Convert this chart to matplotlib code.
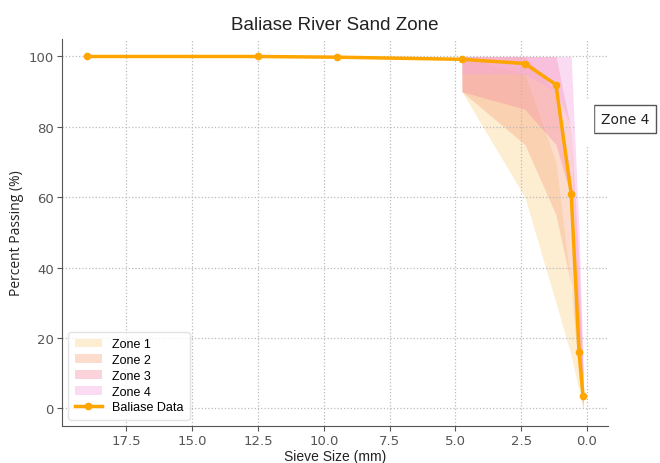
import matplotlib.pyplot as plt
from matplotlib.patches import Rectangle

plt.rcParams['font.family'] = ['Liberation Sans', 'DejaVu Sans']

# sample gradation
sieve = [19, 12.5, 9.5, 4.75, 2.36, 1.18, 0.6, 0.3, 0.15]
passing = [100, 100, 99.8, 99.2, 98.0, 92.0, 61.0, 16.0, 3.5]

# IS 383 grading zone limits
zone_sieve = [4.75, 2.36, 1.18, 0.6, 0.3, 0.15]
zone_names = ['Zone 1', 'Zone 2', 'Zone 3', 'Zone 4']
zone_lo = [
    [90, 60, 30, 15, 5, 0],
    [90, 75, 55, 35, 8, 0],
    [90, 85, 75, 60, 12, 0],
    [95, 95, 90, 80, 15, 0],
]
zone_hi = [
    [100, 95, 70, 34, 20, 10],
    [100, 100, 90, 59, 30, 10],
    [100, 100, 100, 79, 40, 10],
    [100, 100, 100, 100, 50, 15],
]
zone_colors = ['#fcd48c', '#f7a982', '#f590a4', '#f5a6e0']

fig = plt.figure(figsize=(6.6, 4.64), dpi=100)
ax = fig.add_axes([0.094, 0.080, 0.827, 0.834])

for name, lo, hi, col in zip(zone_names, zone_lo, zone_hi, zone_colors):
    ax.fill_between(zone_sieve, lo, hi, color=col, alpha=0.4, lw=0, label=name)

ax.plot(sieve, passing, color='#ffa500', lw=2.5, marker='o', ms=4.5,
        label='Baliase Data')

ax.invert_xaxis()
ax.set_xticks([17.5, 15.0, 12.5, 10.0, 7.5, 5.0, 2.5, 0.0])
ax.set_title('Baliase River Sand Zone', fontsize=13.5, color='#222222', pad=7)
ax.set_xlabel('Sieve Size (mm)', fontsize=10, color='#222222', labelpad=1)
ax.set_ylabel('Percent Passing (%)', fontsize=10, color='#222222',
              family='Open Sans', labelpad=3)
ax.grid(True, ls=':', color='#bbbbbb', lw=0.9)
for s in ['top', 'right']:
    ax.spines[s].set_visible(False)
for s in ['left', 'bottom']:
    ax.spines[s].set_color('#555555')
ax.tick_params(colors='#555555', labelsize=9.5, pad=2.5)
for lab in ax.get_xticklabels() + ax.get_yticklabels():
    lab.set_family('DejaVu Sans')

ax.legend(loc='lower left', fontsize=9, frameon=True, edgecolor='#dddddd',
          handlelength=2.2, borderpad=0.5, labelspacing=0.3)

# white patch and zone label outside the axes
fig.patches.append(Rectangle((576 / 660, 1 - 146 / 464), 17 / 660, 46 / 464,
                             transform=fig.transFigure, color='white', zorder=5))
fig.text(601 / 660, 1 - 120 / 464, 'Zone 4', fontsize=10, ha='left', va='center',
         color='#222222', family='DejaVu Sans',
         bbox=dict(boxstyle='square,pad=0.5', fc='white', ec='#555555', lw=1))

fig.savefig('out.png', dpi=100)
